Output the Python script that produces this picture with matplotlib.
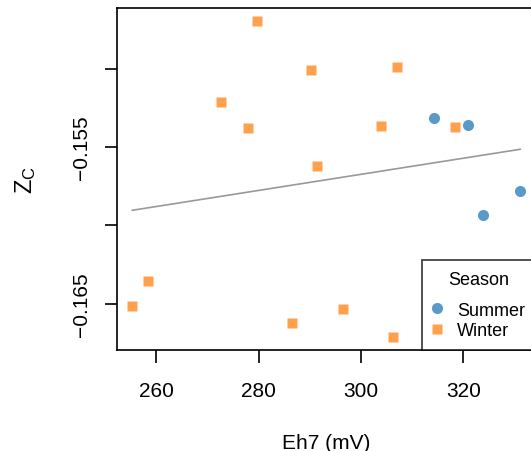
import matplotlib
matplotlib.use("Agg")
from matplotlib import pyplot as plt

plt.rcParams['font.family'] = ['Liberation Sans', 'DejaVu Sans']
plt.rcParams['mathtext.fontset'] = 'custom'
plt.rcParams['mathtext.rm'] = 'Liberation Sans'
plt.rcParams['mathtext.it'] = 'Liberation Sans'

# Summer samples (circles)
summer_eh7 = [314.3, 320.9, 331.1, 323.9]
summer_zc = [-0.15312, -0.15357, -0.15777, -0.15936]

# Winter samples (squares)
winter_eh7 = [279.7, 290.2, 307.1, 272.6, 278.0, 303.9, 318.4, 291.3,
              258.4, 255.3, 286.6, 296.5, 306.3]
winter_zc = [-0.14694, -0.15008, -0.14989, -0.15210, -0.15376, -0.15363, -0.15369,
             -0.15618, -0.16357, -0.16516, -0.16624, -0.16535, -0.16713]

# fitted line end points (over data range)
fit_eh7 = [255.3, 331.1]
fit_zc = [-0.15903, -0.15514]

xticks = [260, 280, 300, 320]
yticks = [-0.150, -0.155, -0.160, -0.165]
ytick_labels = ['', '\u22120.155', '', '\u22120.165']

col_summer = '#5A9AC9'
col_winter = '#FFA04C'

fig = plt.figure(figsize=(5.31, 4.52), dpi=100)
ax = fig.add_axes([117 / 531, 1 - 351 / 452, 419 / 531, 342 / 452])

ax.plot(fit_eh7, fit_zc, color='#999999', lw=1.2, zorder=1)
ax.plot(summer_eh7, summer_zc, 'o', ms=8, color=col_summer, mec='none', label='Summer', zorder=2)
ax.plot(winter_eh7, winter_zc, 's', ms=7.3, color=col_winter, mec='none', label='Winter', zorder=2)

ax.set_xlim(252.3, 334.2)
ax.set_ylim(-0.16794, -0.14613)
ax.set_xticks(xticks)
ax.set_xticklabels([str(v) for v in xticks])
ax.set_yticks(yticks)
ax.set_yticklabels(ytick_labels, rotation=90, va='center')
ax.tick_params(direction='out', length=9, width=1.2, labelsize=15)
ax.tick_params(axis='x', pad=13)
ax.tick_params(axis='y', pad=10)

for s in ax.spines.values():
    s.set_linewidth(1.2)

ax.set_xlabel('Eh7 (mV)', fontsize=15, labelpad=24)
ax.set_ylabel('$Z_C$', fontsize=17, labelpad=24)

leg = ax.legend(title='Season', loc='lower right', bbox_to_anchor=(1, 0),
                borderaxespad=0, fancybox=False, edgecolor='black',
                fontsize=13, title_fontsize=13, handletextpad=0.88,
                borderpad=0.6, labelspacing=0.2, handlelength=0.47)
leg.get_frame().set_linewidth(1.2)
# a bit more room between the title and the entries
leg._legend_box.sep = 10

fig.savefig('out.png', dpi=100)
